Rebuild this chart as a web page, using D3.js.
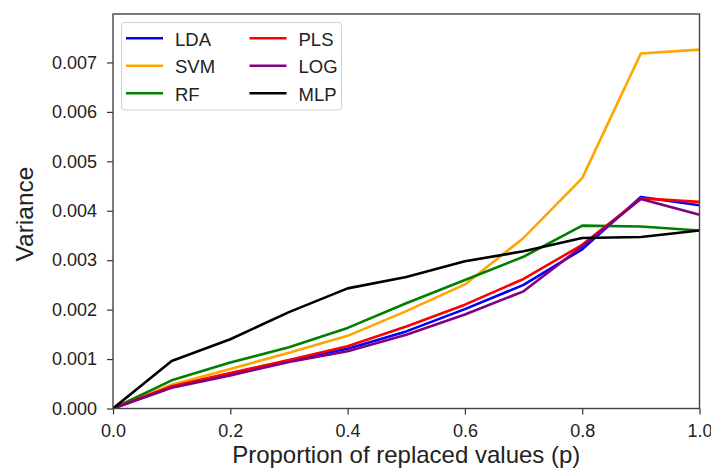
<!DOCTYPE html>
<html>
<head>
<meta charset="utf-8">
<script src="https://cdn.jsdelivr.net/npm/d3@7"></script>
<style>
  html, body { margin: 0; padding: 0; background: #fff; }
  svg text { font-family: "Liberation Sans", Arial, sans-serif; fill: #222; }
</style>
</head>
<body>
<svg id="chart" width="711" height="473"></svg>
<script>
const pValues = [0, 0.1, 0.2, 0.3, 0.4, 0.5, 0.6, 0.7, 0.8, 0.9, 1.0];
const seriesNames = ["LDA", "SVM", "RF", "PLS", "LOG", "MLP"];
const seriesColors = ["#0000ff", "#ffa500", "#008000", "#ff0000", "#800080", "#000000"];
const LDA = [0, 0.00044, 0.00071, 0.00097, 0.00121, 0.00156, 0.00201, 0.00250, 0.00322, 0.00428, 0.00411];
const SVM = [0, 0.00048, 0.00080, 0.00113, 0.00147, 0.00197, 0.00251, 0.00345, 0.00466, 0.00718, 0.00726];
const RF  = [0, 0.00057, 0.00093, 0.00124, 0.00163, 0.00213, 0.00260, 0.00307, 0.00370, 0.00368, 0.00360];
const PLS = [0, 0.00045, 0.00072, 0.00098, 0.00126, 0.00166, 0.00210, 0.00262, 0.00331, 0.00425, 0.00418];
const LOG = [0, 0.00042, 0.00067, 0.00094, 0.00116, 0.00149, 0.00190, 0.00237, 0.00328, 0.00424, 0.00392];
const MLP = [0, 0.00096, 0.00140, 0.00195, 0.00243, 0.00266, 0.00298, 0.00318, 0.00345, 0.00347, 0.00360];
const seriesValues = [LDA, SVM, RF, PLS, LOG, MLP];
const xTicks = [0, 0.2, 0.4, 0.6, 0.8, 1.0];
const yTicks = [0, 0.001, 0.002, 0.003, 0.004, 0.005, 0.006, 0.007];
const xLabel = "Proportion of replaced values (p)";
const yLabel = "Variance";

const svg = d3.select("#chart");
const pLeft = 113, pRight = 699.5, pTop = 14, pBottom = 408.5;
const x = d3.scaleLinear().domain([0, 1]).range([pLeft, pRight]);
const y = d3.scaleLinear().domain([0, 0.00798]).range([pBottom, pTop]);

// lines
const line = d3.line().x((d, i) => x(pValues[i])).y(d => y(d));
svg.append("clipPath").attr("id", "clip").append("rect")
  .attr("x", pLeft).attr("y", pTop).attr("width", pRight - pLeft).attr("height", pBottom - pTop);
const lines = svg.append("g").attr("clip-path", "url(#clip)");
seriesValues.forEach((vals, k) => {
  lines.append("path").datum(vals)
    .attr("d", line)
    .attr("fill", "none")
    .attr("stroke", seriesColors[k])
    .attr("stroke-width", 2.6)
    .attr("stroke-linejoin", "round");
});

// axes
const xAxis = d3.axisBottom(x).tickValues(xTicks).tickFormat(d3.format(".1f")).tickSize(6).tickPadding(10);
const yAxis = d3.axisLeft(y).tickValues(yTicks).tickFormat(d3.format(".3f")).tickSize(6).tickPadding(10);
const gx = svg.append("g").attr("transform", `translate(0,${pBottom})`).call(xAxis);
const gy = svg.append("g").attr("transform", `translate(${pLeft},0)`).call(yAxis);
[gx, gy].forEach(g => {
  g.select(".domain").remove();
  g.selectAll(".tick line").attr("stroke", "#333").attr("stroke-width", 1.2);
  g.selectAll(".tick text").attr("font-size", 18).attr("fill", "#222")
    .style("font-family", '"Liberation Sans", Arial, sans-serif');
});

// frame
svg.append("rect").attr("x", pLeft).attr("y", pTop).attr("width", pRight - pLeft).attr("height", pBottom - pTop)
  .attr("fill", "none").attr("stroke", "#444").attr("stroke-width", 1.4);

// axis labels
svg.append("text").attr("x", (pLeft + pRight) / 2).attr("y", 463)
  .attr("text-anchor", "middle").attr("font-size", 24).text(xLabel);
svg.append("text").attr("transform", `translate(33,214) rotate(-90)`)
  .attr("text-anchor", "middle").attr("font-size", 24.5).text(yLabel);

// legend
const lg = svg.append("g");
lg.append("rect").attr("x", 121.5).attr("y", 22.5).attr("width", 220).attr("height", 87.5).attr("rx", 3)
  .attr("fill", "#fff").attr("fill-opacity", 0.8).attr("stroke", "#d0d0d0").attr("stroke-width", 1);
seriesNames.forEach((name, k) => {
  const col = Math.floor(k / 3), row = k % 3;
  const lx = col === 0 ? 126 : 249.5;
  const ly = 38.3 + row * 27.5;
  lg.append("line").attr("x1", lx).attr("x2", lx + 37).attr("y1", ly).attr("y2", ly)
    .attr("stroke", seriesColors[k]).attr("stroke-width", 2.6);
  lg.append("text").attr("x", lx + 49).attr("y", ly + 7.3).attr("font-size", 18.5).text(name);
});
</script>
</body>
</html>
